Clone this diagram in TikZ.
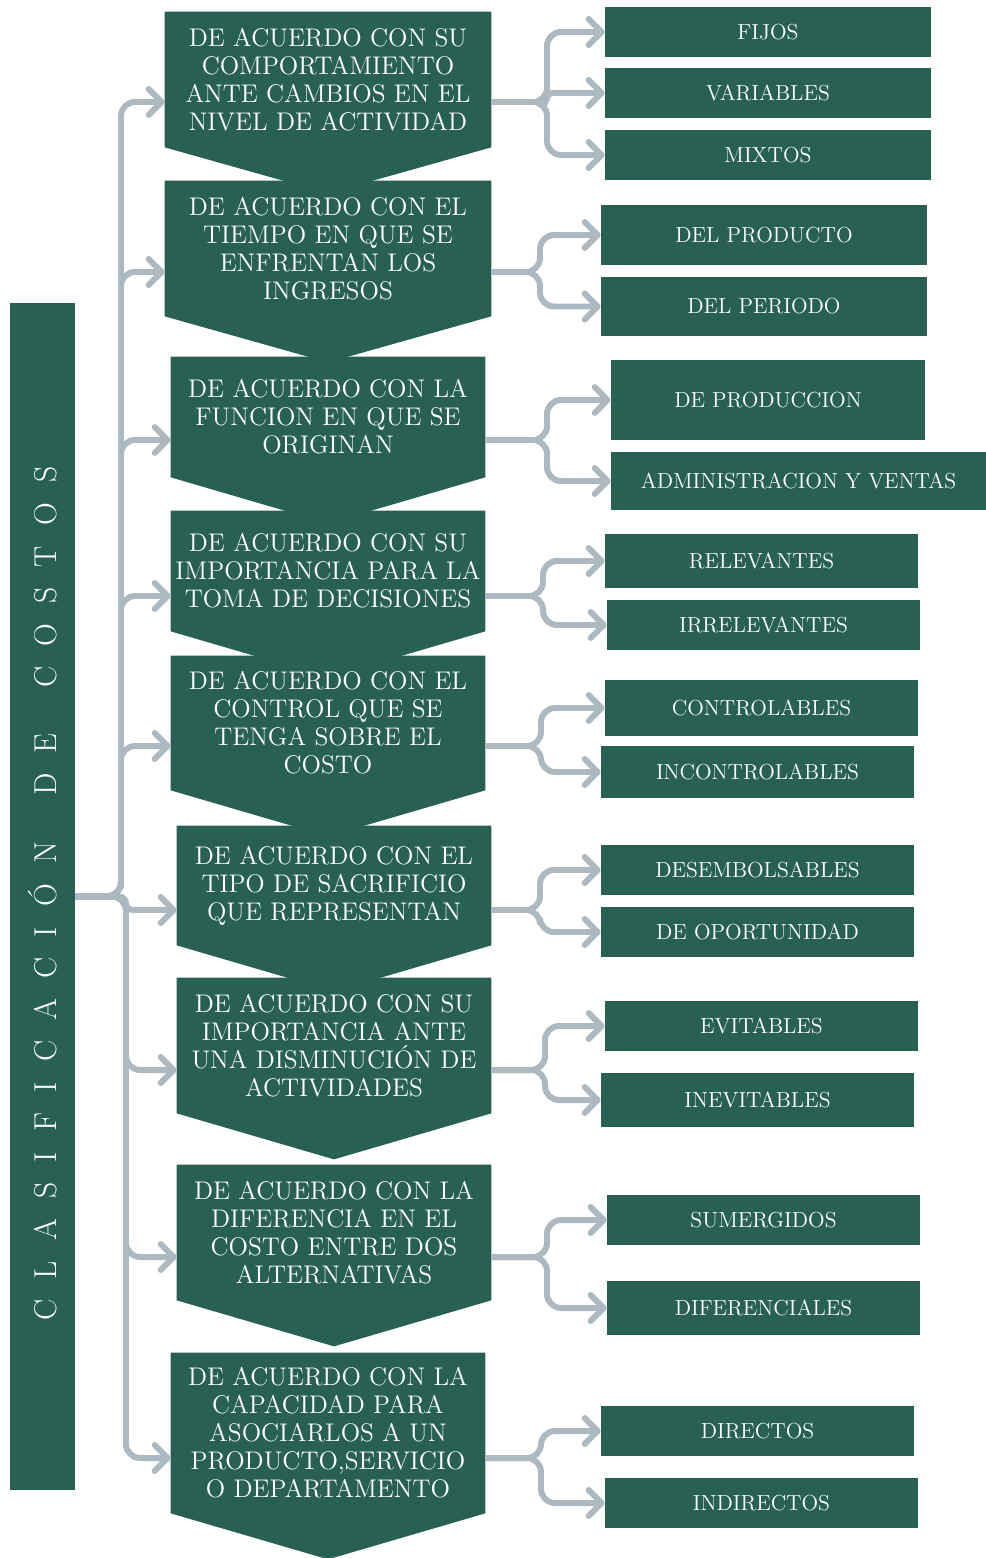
\documentclass[tikz,border=0pt]{standalone}
\usepackage{fontspec}
\usepackage{tikz}
\usetikzlibrary{arrows.meta,positioning,calc,backgrounds}
\definecolor{costgreen}{RGB}{40,97,83}
\definecolor{linkgray}{RGB}{173,185,192}
\newcommand{\lsp}{\hspace{11.5pt}}
\newcommand{\wsp}{\hspace{26pt}}

\begin{document}
\begin{tikzpicture}[x=0.02cm, y=-0.02cm, >=Stealth]
  \tikzset{
    bar/.style={fill=costgreen, inner sep=0pt, minimum width=1.3cm, minimum height=23.74cm},
    title/.style={text=white, inner sep=0pt, font=\fontsize{18}{18}\selectfont},
    chev/.style={fill=costgreen, text=white, align=center, inner sep=0pt, minimum width=6.28cm,
      font=\fontsize{14.5}{15.9}\selectfont},
    cat/.style={fill=costgreen, text=white, inner sep=0pt, minimum width=6.26cm, minimum height=1cm,
      font=\fontsize{12.4}{12.4}\selectfont},
    link/.style={draw=linkgray, line width=3.4pt, rounded corners=8pt,
      -{Straight Barb[length=2.6mm,width=5.2mm,round]}}
  }
  \useasboundingbox (0,0) rectangle (986,1558);

  % left bar
  \node[bar] (bar) at (42.5,896.5) {};
  \node[title, rotate=90] (title) at ([yshift=0.06cm]bar.center)
    {C\lsp L\lsp A\lsp S\lsp I\lsp F\lsp I\lsp C\lsp A\lsp C\lsp I\lsp Ó\lsp N\wsp
     D\lsp E\wsp C\lsp O\lsp S\lsp T\lsp O\lsp S};

  % criteria
  \node[chev, minimum width=6.52cm, minimum height=2.7cm] (c1) at (328,79.5)
    {DE ACUERDO CON SU\\COMPORTAMIENTO\\ANTE CAMBIOS EN EL\\NIVEL DE ACTIVIDAD};
  \node[chev, minimum width=6.52cm, minimum height=2.7cm] (c2) at (328,248.5)
    {DE ACUERDO CON EL\\TIEMPO EN QUE SE\\ENFRENTAN LOS\\INGRESOS};
  \node[chev, minimum height=2.4cm] (c3) at (328,417)
    {DE ACUERDO CON LA\\FUNCION EN QUE SE\\ORIGINAN};
  \node[chev, minimum height=2.4cm] (c4) at (328,571)
    {DE ACUERDO CON SU\\IMPORTANCIA PARA LA\\TOMA DE DECISIONES};
  \node[chev, minimum height=2.68cm] (c5) at (328,723)
    {DE ACUERDO CON EL\\CONTROL QUE SE\\TENGA SOBRE EL\\COSTO};
  \node[chev, minimum height=2.38cm] (c6) at (334,885.5)
    {DE ACUERDO CON EL\\TIPO DE SACRIFICIO\\QUE REPRESENTAN};
  \node[chev, minimum height=2.7cm] (c7) at (334,1045.5)
    {DE ACUERDO CON SU\\IMPORTANCIA ANTE\\UNA DISMINUCIÓN DE\\ACTIVIDADES};
  \node[chev, minimum height=2.7cm] (c8) at (334,1232.5)
    {DE ACUERDO CON LA\\DIFERENCIA EN EL\\COSTO ENTRE DOS\\ALTERNATIVAS};
  \node[chev, minimum height=3.2cm] (c9) at (328,1433)
    {DE ACUERDO CON LA\\CAPACIDAD PARA\\ASOCIARLOS A UN\\PRODUCTO,SERVICIO\\O DEPARTAMENTO};
  \begin{scope}[on background layer]
    \foreach \i in {1,...,9}
      \fill[costgreen] (c\i.north west) -- (c\i.south west) -- ($(c\i.south)+(0,46)$)
        -- (c\i.south east) -- (c\i.north east) -- cycle;
  \end{scope}

  % cost types
  \node[cat, minimum width=6.52cm] (fijos) at (768,32) {FIJOS};
  \node[cat, minimum width=6.52cm] (variables) at (768,93) {VARIABLES};
  \node[cat, minimum width=6.52cm] (mixtos) at (768,155) {MIXTOS};
  \node[cat, minimum width=6.52cm, minimum height=1.2cm] (producto) at (764,235) {DEL PRODUCTO};
  \node[cat, minimum width=6.52cm, minimum height=1.18cm] (periodo) at (764,306.5) {DEL PERIODO};
  \node[cat, minimum width=6.28cm, minimum height=1.6cm] (produccion) at (768,400) {DE PRODUCCION};
  \node[cat, minimum width=7.5cm, minimum height=1.16cm] (admin) at (798.5,481) {ADMINISTRACION Y VENTAS};
  \node[cat, minimum height=1.08cm] (relevantes) at (761.5,561) {RELEVANTES};
  \node[cat] (irrelevantes) at (763.5,625) {IRRELEVANTES};
  \node[cat, minimum height=1.12cm] (controlables) at (761.5,708) {CONTROLABLES};
  \node[cat, minimum height=1.04cm] (incontrolables) at (757.5,772) {INCONTROLABLES};
  \node[cat] (desembolsables) at (757.5,870) {DESEMBOLSABLES};
  \node[cat] (oportunidad) at (757.5,932) {DE OPORTUNIDAD};
  \node[cat] (evitables) at (761.5,1026) {EVITABLES};
  \node[cat, minimum height=1.08cm] (inevitables) at (757.5,1100) {INEVITABLES};
  \node[cat] (sumergidos) at (763.5,1220) {SUMERGIDOS};
  \node[cat, minimum height=1.08cm] (diferenciales) at (763.5,1308) {DIFERENCIALES};
  \node[cat] (directos) at (757.5,1431) {DIRECTOS};
  \node[cat] (indirectos) at (761.5,1503) {INDIRECTOS};

  % trunk and forks
  \coordinate (up) at (121,896.5);
  \coordinate (dn) at (126,896.5);
  \foreach \i/\y/\fx in {1/102/547,2/272/540,3/440/547,4/596/543,5/746/541,
                         6/910/540,7/1070/545,8/1257/547,9/1458/541}{
    \coordinate (a\i) at (0,\y);
    \coordinate (f\i) at (\fx,\y);
  }
  \foreach \i in {1,...,5}
    \draw[link] (bar.east) -- (up) |- (c\i.west |- a\i);
  \draw[link, rounded corners=4pt] (bar.east) -- (dn) |- (c6.west |- a6);
  \foreach \i in {7,8,9}
    \draw[link] (bar.east) -- (dn) |- (c\i.west |- a\i);

  \foreach \i/\b in {1/fijos,1/mixtos,2/producto,2/periodo,3/produccion,3/admin,
                     4/relevantes,4/irrelevantes,5/controlables,5/incontrolables,
                     6/desembolsables,6/oportunidad,7/evitables,7/inevitables,
                     8/sumergidos,8/diferenciales,9/directos,9/indirectos}
    \draw[link] (c\i.east |- a\i) -- (f\i) |- (\b.west);
  \draw[link, rounded corners=3pt] (c1.east |- a1) -- (f1) |- (variables.west);
\end{tikzpicture}
\end{document}
